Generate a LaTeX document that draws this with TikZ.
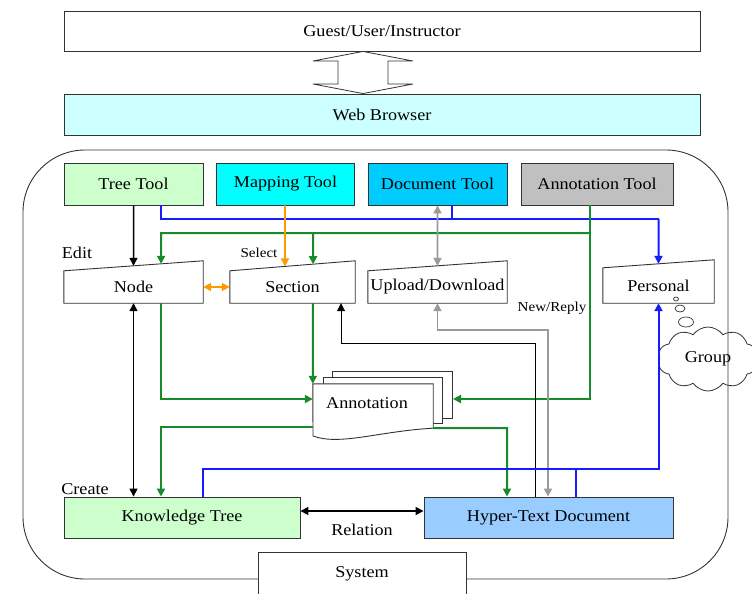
\documentclass[tikz,border=0pt]{standalone}
\usepackage{fontspec}
\setmainfont{Liberation Serif}[FakeStretch=1.1]
\usetikzlibrary{arrows.meta,calc,shapes.symbols}

\definecolor{treegreen}{HTML}{CCFFCC}
\definecolor{browsercyan}{HTML}{CCFFFF}
\definecolor{mapcyan}{HTML}{00FFFF}
\definecolor{doccyan}{HTML}{00CCFF}
\definecolor{annotgray}{HTML}{C0C0C0}
\definecolor{hyperblue}{HTML}{99CCFF}
\definecolor{linkgreen}{HTML}{178A2A}
\definecolor{linkblue}{HTML}{1A1AFF}
\definecolor{linkorange}{HTML}{FF9900}
\definecolor{linkgray}{HTML}{9A9A9A}
\definecolor{framecol}{HTML}{333333}

% box whose top edge slopes up to the right (manual input)
\newcommand{\slantbox}[2]{%
  \draw[framecol, line width=0.9pt] (#1.south west) -- (#1.south east)
    -- ([yshift=#2]#1.north east) coordinate (#1-tr)
    -- (#1.north west) coordinate (#1-tl) -- cycle;}

\begin{document}
\begin{tikzpicture}[x=1pt, y=-1pt,
  box/.style={draw=framecol, line width=0.9pt, inner sep=0pt, minimum height=41pt,
    font=\fontsize{16.5}{19}\selectfont},
  lbl/.style={inner sep=0pt, font=\fontsize{16.5}{19}\selectfont},
  small/.style={inner sep=0pt, font=\fontsize{13.7}{16}\selectfont},
  tip/.style={-{Triangle[length=8pt,width=8pt]}},
  both/.style={{Triangle[length=8pt,width=8pt]}-{Triangle[length=8pt,width=8pt]}},
  grn/.style={draw=linkgreen, line width=2pt},
  blu/.style={draw=linkblue, line width=2pt},
  blk/.style={draw=black, line width=1.5pt},
  thinblk/.style={draw=black, line width=1pt},
  gry/.style={draw=linkgray, line width=1.8pt},
  org/.style={draw=linkorange, line width=1.8pt}]

\useasboundingbox (0,0) rectangle (752,594);
\clip (0,0) rectangle (752,594);
\fill[white] (0,0) rectangle (752,594);

% user and browser
\node[box, minimum width=636pt, minimum height=40pt] (guest) at (382,31) {Guest/User/Instructor};
\node[box, fill=browsercyan, minimum width=636pt] (browser) at (382,114.5) {Web Browser};
\draw[framecol, line width=0.8pt, fill=white]
  (guest.south -| 363,0) -- (413,61) -- (388,61) -- (388,84) -- (413,84)
  -- (browser.north -| 363,0) -- (313,84) -- (338,84) -- (338,61) -- (313,61) -- cycle;

% system frame
\draw[framecol, line width=0.9pt, rounded corners=62pt] (23,150) rectangle (728,579);

% tools
\node[box, fill=treegreen, minimum width=139pt, minimum height=42pt] (treetool) at (133.5,184) {Tree Tool};
\node[box, fill=mapcyan, minimum width=138pt, minimum height=42pt] (maptool) at (285.5,184) {Mapping Tool};
\node[box, fill=doccyan, minimum width=139pt, minimum height=42pt] (doctool) at (437.5,184) {Document Tool};
\node[box, fill=annotgray, minimum width=152pt, minimum height=42pt] (annottool) at (597,184) {Annotation Tool};

% components
\node[lbl, minimum width=139pt, minimum height=32pt] (nodebox) at (133.5,287) {Node};
\slantbox{nodebox}{10pt}
\node[lbl, minimum width=125pt, minimum height=32pt] (section) at (292.5,287) {Section};
\slantbox{section}{10pt}
\node[lbl, minimum width=139pt, minimum height=32pt] (updown) at (437.5,287) {Upload/Download};
\slantbox{updown}{10pt}
\node[lbl, minimum width=111pt, minimum height=35pt] (personal) at (658.5,285.5) {Personal};
\slantbox{personal}{8pt}

% annotation stack
\draw[framecol, line width=0.9pt, fill=white] (332,371) rectangle (452,418);
\draw[framecol, line width=0.9pt, fill=white] (323,377) rectangle (442,423);
\node[inner sep=0pt, minimum width=120pt, minimum height=44pt] (annot) at (373,406) {};
\draw[framecol, line width=0.9pt, fill=white]
  (annot.south east) -- (annot.north east) -- (annot.north west) -- (313,436)
  .. controls (340,446) and (380,431) .. (annot.south east) -- cycle;
\node[lbl] (annottext) at ([xshift=-6pt, yshift=3pt]annot.center) {Annotation};

% results
\node[box, fill=treegreen, minimum width=236pt] (ktree) at (182,517.5) {Knowledge Tree};
\node[box, fill=hyperblue, minimum width=249pt] (hyper) at (548.5,517.5) {Hyper-Text Document};
\node[box, fill=white, minimum width=208pt, minimum height=44pt] (system) at (362,574) {System};

% group cloud
\node[cloud, draw=framecol, line width=0.8pt, cloud puffs=10, cloud puff arc=110, aspect=1.5,
  minimum width=100pt, minimum height=64pt, lbl] (group) at (708,359) {Group};
\draw[framecol, line width=0.7pt] (676,299) ellipse [x radius=2.5pt, y radius=2pt];
\draw[framecol, line width=0.7pt] (680,308.5) ellipse [x radius=5pt, y radius=3.5pt];
\draw[framecol, line width=0.7pt] (686,322) ellipse [x radius=7.5pt, y radius=5pt];

% labels
\node[lbl] (editlbl) at (77,253) {Edit};
\node[lbl] (createlbl) at (85,489) {Create};
\node[small] (selectlbl) at (259,253) {Select};
\node[small] (replylbl) at (552,308) {New/Reply};
\node[lbl] (rellbl) at (362,530) {Relation};

% tools to components
\draw[blk, tip] (treetool.south) -- ($(nodebox-tl)!0.5!(nodebox-tr)$);
\draw[blu] (treetool.south -| 161,0) -- (161,219) -- (658.5,219);
\draw[blu, tip] (658.5,219) -- ($(personal-tl)!0.5!(personal-tr)$);
\draw[blu] (doctool.south -| 452,0) -- (452,219);
\draw[grn] (annottool.south -| 590,0) -- (590,233);
\draw[grn, tip] (590,233) -- (161,233) -- ($(nodebox-tl)!0.698!(nodebox-tr)$);
\draw[grn, tip] (313,233) -- ($(section-tl)!0.664!(section-tr)$);
\draw[grn, tip] (590,233) -- (590,399) -- (453,399);
\draw[org, tip] (maptool.south -| 285,0) -- ($(section-tl)!0.44!(section-tr)$);
\draw[gry, both] (doctool.south) -- ($(updown-tl)!0.5!(updown-tr)$);
\draw[org, both] (nodebox.east) -- (section.west);

% components to annotation
\draw[grn, tip] (nodebox.south -| 161,0) -- (161,399) -- (annot.west |- 0,399);
\draw[grn, tip] (section.south -| 313,0) -- (annot.north west);

% annotation to results
\draw[grn, tip] (annot.west |- 0,427) -- (161,427) -- (ktree.north -| 161,0);
\draw[grn, tip] (annot.south east) -- (507,428) -- (hyper.north -| 507,0);

% results back to components
\draw[thinblk, tip] (hyper.north -| 535,0) -- (535,343) -- (341,343) -- (section.south -| 341,0);
\draw[gry, both] (updown.south) -- (437.5,330) -- (548,330) -- (hyper.north -| 548,0);
\draw[blu, tip] (ktree.north -| 203,0) -- (203,469) -- (658.5,469) -- (personal.south);
\draw[blu] (hyper.north -| 576,0) -- (576,469);
\draw[blk, both] (nodebox.south) -- (ktree.north -| nodebox.south);
\draw[blk, both] (ktree.east |- 0,511) -- (hyper.west |- 0,511);

\end{tikzpicture}
\end{document}
